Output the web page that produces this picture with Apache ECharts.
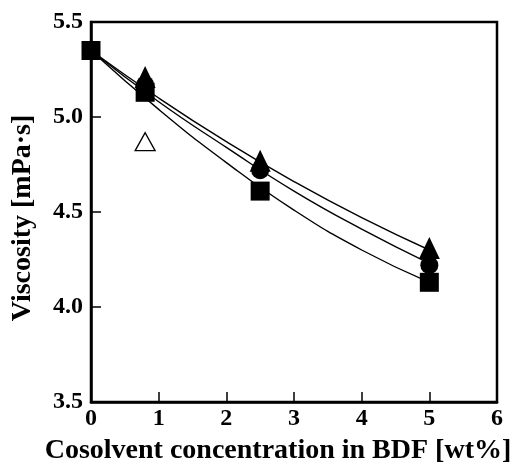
<!DOCTYPE html>
<html>
<head>
<meta charset="utf-8">
<script src="https://cdn.jsdelivr.net/npm/echarts@6/dist/echarts.min.js"></script>
<style>
  html, body { margin: 0; padding: 0; background: #fff; }
  #chart { width: 513px; height: 465px; }
</style>
</head>
<body>
<div id="chart"></div>
<script>
// measured points (x = cosolvent wt%, y = viscosity mPa·s)
var squarePts = [[0, 5.35], [0.8, 5.13], [2.5, 4.61], [5, 4.13]];
var circlePts = [[0.8, 5.17], [2.5, 4.72], [5, 4.22]];
var trianglePts = [[0.8, 5.21], [2.5, 4.77], [5, 4.31]];
var openTrianglePts = [[0.8, 4.87]];

// fitted curves
var fitX = [0, 1, 2, 3, 4, 5];
var fitSquare = [5.35, 5.04, 4.76, 4.51, 4.30, 4.13];
var fitCircle = [5.35, 5.08, 4.84, 4.61, 4.41, 4.23];
var fitTriangle = [5.35, 5.10, 4.87, 4.66, 4.47, 4.30];

function pairs(xs, ys) {
  return xs.map(function (x, i) { return [x, ys[i]]; });
}

var font = 'Liberation Serif';
var chart = echarts.init(document.getElementById('chart'));

function curve(ys) {
  return {
    type: 'line',
    data: pairs(fitX, ys),
    smooth: true,
    showSymbol: false,
    lineStyle: { color: '#000', width: 1.4 },
    silent: true,
    z: 1
  };
}

chart.setOption({
  animation: false,
  grid: {
    left: 91, right: 16, top: 22, bottom: 63,
    containLabel: false,
    outerBoundsMode: 'none',
    show: true, borderColor: '#000', borderWidth: 2.5,
    backgroundColor: 'transparent'
  },
  xAxis: {
    type: 'value',
    min: 0, max: 6, interval: 1,
    name: 'Cosolvent concentration in BDF [wt%]',
    nameLocation: 'middle',
    nameGap: 35,
    nameTextStyle: {
      fontFamily: font, fontWeight: 'bold', fontSize: 28, color: '#000',
      padding: [0, 32, 0, 0]
    },
    axisLine: { lineStyle: { color: '#000', width: 2.5 } },
    axisTick: { inside: true, length: 10, lineStyle: { color: '#000', width: 1.5 } },
    axisLabel: { fontFamily: font, fontWeight: 'bold', fontSize: 24, color: '#000', margin: 5 },
    splitLine: { show: false }
  },
  yAxis: {
    type: 'value',
    min: 3.5, max: 5.5, interval: 0.5,
    name: 'Viscosity [mPa·s]',
    nameLocation: 'middle',
    nameGap: 54,
    nameTextStyle: {
      fontFamily: font, fontWeight: 'bold', fontSize: 28, color: '#000',
      padding: [0, 12, 0, 0]
    },
    axisLine: { lineStyle: { color: '#000', width: 2.5 } },
    axisTick: { inside: true, length: 10, lineStyle: { color: '#000', width: 1.5 } },
    axisLabel: {
      fontFamily: font, fontWeight: 'bold', fontSize: 24, color: '#000', margin: 8,
      formatter: function (v) { return v.toFixed(1); }
    },
    splitLine: { show: false }
  },
  series: [
    curve(fitSquare),
    curve(fitCircle),
    curve(fitTriangle),
    {
      type: 'scatter', data: circlePts, symbol: 'circle', symbolSize: 18,
      itemStyle: { color: '#000', opacity: 1 }, z: 3
    },
    {
      type: 'scatter', data: trianglePts, symbol: 'triangle', symbolSize: [21, 22],
      itemStyle: { color: '#000', opacity: 1 }, z: 4
    },
    {
      type: 'scatter', data: squarePts, symbol: 'rect', symbolSize: 19,
      itemStyle: { color: '#000', opacity: 1 }, z: 5
    },
    {
      type: 'scatter', data: openTrianglePts, symbol: 'triangle', symbolSize: [20, 18],
      itemStyle: { color: '#fff', borderColor: '#000', borderWidth: 1.3, opacity: 1 }, z: 5
    }
  ]
});
</script>
</body>
</html>
